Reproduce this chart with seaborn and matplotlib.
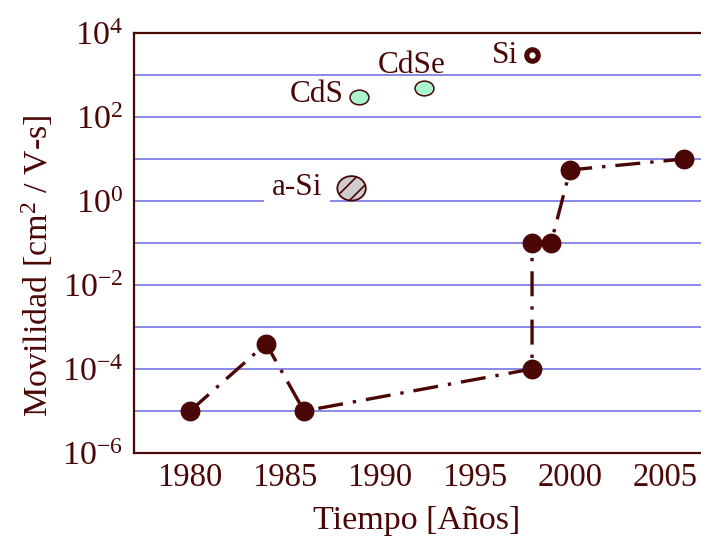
import numpy as np
import pandas as pd
import matplotlib
matplotlib.use("Agg")
import matplotlib.pyplot as plt
from matplotlib.path import Path
from matplotlib.transforms import Affine2D
from matplotlib.ticker import FixedLocator, FixedFormatter, LogLocator, NullFormatter, MultipleLocator
import seaborn as sns

# Organic TFT mobility record over time
years = [1980, 1984, 1986, 1998, 1998, 1999, 2000, 2006]
mobility = [1e-5, 4e-4, 1e-5, 1e-4, 0.1, 0.1, 5.5, 10]

# Reference inorganic semiconductors
ref_names = ["CdS", "CdSe", "Si", "a-Si"]
ref_years = [1988.9, 1992.3, 1998.0, 1988.5]
ref_mobility = [300, 500, 3000, 2]

x_ticks = [1980, 1985, 1990, 1995, 2000, 2005]
y_decades = list(range(-6, 5))

sns.set_theme(style="white")
plt.rcParams["font.family"] = ["Liberation Serif", "DejaVu Serif"]
plt.rcParams["mathtext.fontset"] = "custom"
plt.rcParams["mathtext.rm"] = "Liberation Serif"
plt.rcParams["mathtext.it"] = "Liberation Serif:italic"
plt.rcParams["mathtext.bf"] = "Liberation Serif:bold"
plt.rcParams["hatch.linewidth"] = 1.2

MAROON = "#4b0606"
GRID = "#6a6ae2"
MINT = "#aaf5cc"
GRAY = "#cdcdcd"
plt.rcParams["hatch.color"] = MAROON

fig = plt.figure(figsize=(7.01, 5.40), dpi=100)
W, H = 701, 540
left_px, top_px, bottom_px = 134, 33, 453
xmin, xmax = 1977.05, 2008.0
px_per_year = 19.0
ax = fig.add_axes([left_px / W, 1 - bottom_px / H,
                   (xmax - xmin) * px_per_year / W, (bottom_px - top_px) / H])
ax.set_facecolor("white")

ax.set_yscale("log")
ax.set_xlim(xmin, xmax)
ax.set_ylim(1e-6, 1e4)

# Decade gridlines
for k in y_decades[1:-1]:
    ax.axhline(10.0 ** k, color=GRID, lw=1.1, zorder=0.5)

df = pd.DataFrame({"year": years, "mobility": mobility})
sns.lineplot(data=df, x="year", y="mobility", ax=ax, estimator=None, sort=False,
             color=MAROON, lw=2.4, marker="o", markersize=14.3,
             markeredgewidth=0, markerfacecolor=MAROON, zorder=3)
line = ax.lines[-1]
line.set_linestyle((0, (7.5, 3.0, 1.0, 3.0)))

# Elliptic marker shapes
ellipse = Path.unit_circle().transformed(Affine2D().scale(1.0, 0.78))
ellipse_asi = Path.unit_circle().transformed(Affine2D().scale(1.0, 0.86))

ref = pd.DataFrame({"name": ref_names, "year": ref_years, "mobility": ref_mobility})
green = ref[ref["name"].isin(["CdS", "CdSe"])]
sns.scatterplot(data=green, x="year", y="mobility", ax=ax, marker=ellipse, s=185,
                color=MINT, edgecolor=MAROON, linewidth=1.1, zorder=4)
si = ref[ref["name"] == "Si"]
sns.scatterplot(data=si, x="year", y="mobility", ax=ax, marker="o", s=68,
                color="white", edgecolor=MAROON, linewidth=3.7, zorder=4)
asi = ref[ref["name"] == "a-Si"]
sns.scatterplot(data=asi, x="year", y="mobility", ax=ax, marker=ellipse_asi, s=420,
                color=GRAY, edgecolor=MAROON, linewidth=1.3, hatch="//", zorder=4)

# Material labels
label_pos = {"CdS": (1986.68, 10 ** 2.35), "CdSe": (1991.68, 10 ** 3.05),
             "Si": (1996.58, 10 ** 3.28), "a-Si": (1985.63, 10 ** 0.14)}
for name in ref_names:
    lx, ly = label_pos[name]
    kw = {}
    if name == "a-Si":
        kw["bbox"] = dict(boxstyle="square,pad=0.25", fc="white", ec="none")
    ax.text(lx, ly, name, ha="center", va="baseline", fontsize=22.5,
            color=MAROON, zorder=2, **kw)

# Axes styling
for side in ["left", "bottom", "top"]:
    ax.spines[side].set_color(MAROON)
    ax.spines[side].set_linewidth(1.6)
    ax.spines[side].set_visible(True)
ax.spines["right"].set_visible(False)

ax.xaxis.set_major_locator(FixedLocator(x_ticks))
ax.xaxis.set_minor_locator(MultipleLocator(2.5))
ax.set_xticklabels([str(t) for t in x_ticks])

ax.yaxis.set_major_locator(FixedLocator([10.0 ** k for k in y_decades]))
ax.yaxis.set_major_formatter(FixedFormatter(
    [f"$10^{{{k}}}$" if k % 2 == 0 else "" for k in y_decades]))
ax.yaxis.set_minor_locator(LogLocator(base=10, subs=np.arange(2, 10), numticks=100))
ax.yaxis.set_minor_formatter(NullFormatter())

ax.tick_params(axis="both", which="major", direction="in", length=7, width=1.3,
               color=MAROON, labelcolor=MAROON, labelsize=23.5)
ax.tick_params(axis="both", which="minor", direction="in", length=4, width=1.1,
               color=MAROON)
ax.tick_params(axis="x", which="major", pad=7)
ax.tick_params(axis="y", which="major", pad=8, labelsize=24.5)
ax.tick_params(top=False, right=False, which="both")

ax.set_xlabel("")
ax.set_ylabel("")
fig.text(417 / W, 1 - 521 / H, "Tiempo [Años]", ha="center", va="center",
         fontsize=24.5, color=MAROON)
fig.text(37 / W, 1 - 266 / H, "Movilidad [cm$^2$ / V-s]", ha="center", va="center",
         rotation=90, fontsize=24.5, color=MAROON)

fig.savefig("out.png", dpi=100, facecolor="white")
